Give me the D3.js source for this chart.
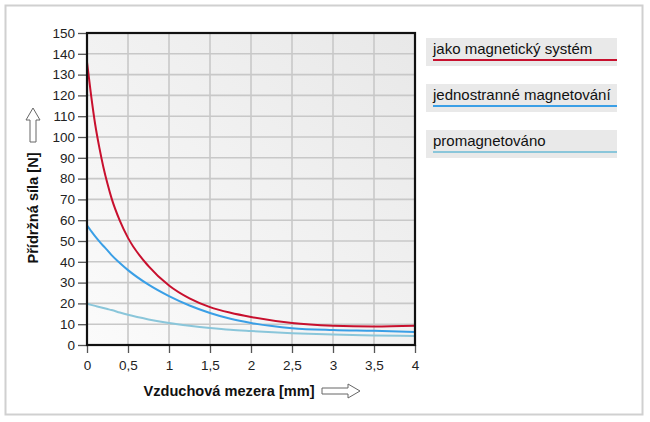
<!DOCTYPE html>
<html><head><meta charset="utf-8">
<script src="https://cdn.jsdelivr.net/npm/d3@7"></script>
<style>body{margin:0;background:#fff}svg{display:block;font-family:"Liberation Sans",Arial,sans-serif}</style>
</head><body><svg id="c" width="650" height="422"></svg>
<script>
const xTicks = [0,0.5,1,1.5,2,2.5,3,3.5,4];
const xTickLabels = ["0","0,5","1","1,5","2","2,5","3","3,5","4"];
const yTicks = [0,10,20,30,40,50,60,70,80,90,100,110,120,130,140,150];
const gapMm = [0,0.05,0.1,0.15,0.2,0.25,0.3,0.4,0.5,0.75,1,1.25,1.5,1.75,2,2.5,3,3.5,4];
const redVals = [136,120,106,95,85.5,77.5,70.5,59.8,51.5,37.9,28.6,22.4,18.2,15.5,13.5,10.6,9.3,8.9,9.3];
const blueVals = [57.5,54.8,52.2,49.8,47.6,45.5,43.2,39.4,36,29,23.5,19,15.4,12.6,10.6,8.1,7.2,6.8,6.2];
const lightVals = [19.8,19.3,18.8,18.3,17.8,17.3,16.8,15.6,14.5,12.3,10.6,9.3,8.2,7.3,6.7,5.7,5,4.6,4.3];
const seriesNames = ["jako magnetický systém","jednostranné magnetování","promagnetováno"];
const seriesColors = ["#c8102e","#3a9fe6","#8ac6da"];
const seriesVals = [redVals, blueVals, lightVals];

const svg = d3.select("#c");
const L=87,R=415,T=33,B=345;
const x = d3.scaleLinear().domain([0,4]).range([L,R]);
const y = d3.scaleLinear().domain([0,150]).range([B,T]);

svg.append("rect").attr("x",5.5).attr("y",5.5).attr("width",637).attr("height",409)
  .attr("fill","#fff").attr("stroke","#d0d0d0").attr("stroke-width",2);

const defs = svg.append("defs");
const g = defs.append("linearGradient").attr("id","bg").attr("x1","0%").attr("y1","100%").attr("x2","100%").attr("y2","0%");
g.append("stop").attr("offset","0%").attr("stop-color","#fbfbfb");
g.append("stop").attr("offset","100%").attr("stop-color","#e8e8e8");
svg.append("rect").attr("x",L).attr("y",T).attr("width",R-L).attr("height",B-T).attr("fill","url(#bg)");

// grid
svg.append("g").selectAll("line").data(xTicks.slice(1,-1)).join("line")
  .attr("x1",d=>x(d)).attr("x2",d=>x(d)).attr("y1",T).attr("y2",B)
  .attr("stroke","#c8c8c8").attr("stroke-width",1.6);
svg.append("g").selectAll("line").data(yTicks.slice(1,-1)).join("line")
  .attr("y1",d=>y(d)).attr("y2",d=>y(d)).attr("x1",L).attr("x2",R)
  .attr("stroke","#c8c8c8").attr("stroke-width",1.6);

// axes
const yAxis = d3.axisLeft(y).tickValues(yTicks).tickSize(9).tickPadding(3);
const ya = svg.append("g").attr("transform",`translate(${L},0)`).call(yAxis);
const xAxis = d3.axisBottom(x).tickValues(xTicks).tickFormat((d,i)=>xTickLabels[i]).tickSize(8).tickPadding(7);
const xa = svg.append("g").attr("transform",`translate(0,${B})`).call(xAxis);
[ya,xa].forEach(a=>{
  a.select(".domain").remove();
  a.selectAll(".tick line").attr("stroke","#555").attr("stroke-width",1.3);
  a.selectAll(".tick text").attr("font-size",13.5).attr("fill","#222").attr("font-family","Liberation Sans, Arial, sans-serif");
});

// lines
const line = d3.line().x((d,i)=>x(gapMm[i])).y(d=>y(d)).curve(d3.curveMonotoneX);
seriesVals.forEach((vals,k)=>{
  svg.append("path").datum(vals).attr("d",line).attr("fill","none")
    .attr("stroke",seriesColors[k]).attr("stroke-width",2);
});

// frame
svg.append("rect").attr("x",L).attr("y",T).attr("width",R-L).attr("height",B-T)
  .attr("fill","none").attr("stroke","#111").attr("stroke-width",2.2);

// axis titles
svg.append("text").attr("x",229).attr("y",396).attr("text-anchor","middle")
  .attr("font-size",14.6).attr("font-weight","bold").attr("fill","#111").text("Vzduchová mezera [mm]");
svg.append("text").attr("transform","translate(38,208) rotate(-90)").attr("text-anchor","middle")
  .attr("font-size",14.6).attr("font-weight","bold").attr("fill","#111").text("Přídržná síla [N]");

// arrows
svg.append("path").attr("d","M322,388 L348,388 L348,384 L360,391 L348,398 L348,394 L322,394 Z")
  .attr("fill","#fff").attr("stroke","#666").attr("stroke-width",1);
svg.append("path").attr("d","M30,142 L30,120 L26,120 L33,108 L40,120 L36,120 L36,142 Z")
  .attr("fill","#fff").attr("stroke","#666").attr("stroke-width",1);

// legend
const lg = svg.append("g");
seriesNames.forEach((n,i)=>{
  const top = 38 + i*46;
  lg.append("rect").attr("x",426).attr("y",top).attr("width",191).attr("height",28).attr("fill","#e9e9e9");
  lg.append("text").attr("x",433).attr("y",top+16).attr("font-size",15).attr("fill","#111").text(n);
  lg.append("line").attr("x1",433).attr("x2",617).attr("y1",top+22).attr("y2",top+22)
    .attr("stroke",seriesColors[i]).attr("stroke-width",2);
});
</script></body></html>
